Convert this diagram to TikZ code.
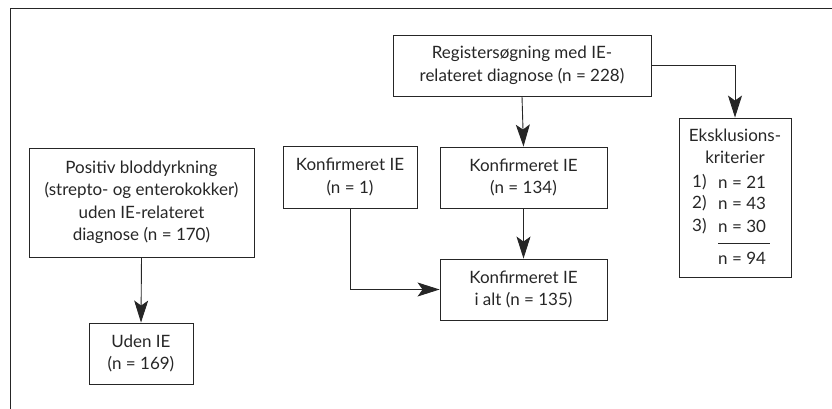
\documentclass[tikz,border=0pt]{standalone}
\usepackage{fontspec}
\setmainfont{Lato}
\usetikzlibrary{arrows.meta}
\begin{document}
\begin{tikzpicture}[x=1pt,y=-1pt,
  box/.style={draw=black!85, line width=0.9pt, align=center, inner sep=0pt,
    font=\fontsize{17}{22.5}\selectfont, text=black!85},
  conn/.style={draw=black!85, line width=0.9pt, -{Stealth[length=22pt,width=14pt,inset=5pt]}},
  frame/.style={draw=black!85, line width=0.9pt}]
\useasboundingbox (0,0) rectangle (832,409);
\coordinate (fa) at (10.5,409);
\coordinate (fb) at (10.5,8.3);
\coordinate (fc) at (832,8.3);
\draw[frame] (fa) -- (fb) -- (fc);
\node[box, minimum width=258pt, minimum height=61pt] (reg) at (522,65.5)
  {Registersøgning med IE-\\relateret diagnose (n = 228)};
\node[box, minimum width=225pt, minimum height=109pt] (pos) at (141.5,202.5)
  {Positiv bloddyrkning\\(strepto- og enterokokker)\\uden IE-relateret\\diagnose (n = 170)};
\node[box, minimum width=104pt, minimum height=61pt] (uden) at (141,353.5)
  {Uden IE\\(n = 169)};
\node[box, minimum width=134pt, minimum height=62pt] (k1) at (350,177)
  {Konfirmeret IE\\(n = 1)};
\node[box, minimum width=167pt, minimum height=61pt] (k134) at (523.5,177.5)
  {Konfirmeret IE\\(n = 134)};
\node[box, minimum width=167pt, minimum height=61pt] (k135) at (523.5,289.5)
  {Konfirmeret IE\\i alt (n = 135)};
\node[box, minimum width=112pt, minimum height=159pt] (ex) at (735,197.5) {};
\begin{scope}[every node/.style={font=\fontsize{17}{22.5}\selectfont, text=black!85, inner sep=0pt}]
\node (e1) at (735,135) {Eksklusions-};
\node (e2) at (735,157) {kriterier};
\node[anchor=west] (n1a) at (692,182) {1)};
\node[anchor=west] (n1b) at (718,182) {n = 21};
\node[anchor=west] (n2a) at (692,203.5) {2)};
\node[anchor=west] (n2b) at (718,203.5) {n = 43};
\node[anchor=west] (n3a) at (692,226.5) {3)};
\node[anchor=west] (n3b) at (718,226.5) {n = 30};
\node[anchor=west] (n4b) at (718,258) {n = 94};
\end{scope}
\coordinate (ra) at (718,243);
\coordinate (rb) at (769.5,243);
\draw[frame] (ra) -- (rb);
\draw[conn] (reg.south) -- (k134.north);
\draw[conn] (k134.south) -- (k135.north);
\draw[conn] (pos.south) -- (uden.north);
\draw[conn] (k1.south) |- (k135.west);
\draw[conn] (reg.east) -| (ex.north);
\end{tikzpicture}
\end{document}
